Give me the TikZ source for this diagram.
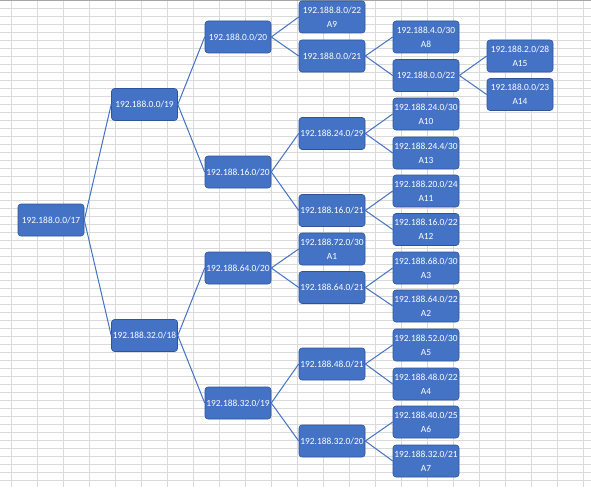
\documentclass[tikz,border=0pt]{standalone}
\usepackage{fontspec}
\setmainfont{Carlito}
\usepackage{tikz}
\usetikzlibrary{positioning, calc}
\usepackage{xcolor}
\definecolor{xblue}{HTML}{4472C4}
\definecolor{xedge}{HTML}{2F5597}
\definecolor{xgrid}{HTML}{DADADA}
\definecolor{xtop}{HTML}{A6A6A6}
\tikzset{
	net/.style={draw=xedge, line width=0.6pt, fill=xblue, rounded corners=3pt, text=white,
		minimum width=66pt, minimum height=32pt, inner sep=0pt, align=center,
		font=\fontsize{9.4}{14}\selectfont},
	link/.style={xblue, line width=1pt},
	cell/.style={xgrid, line width=1pt},
}

\begin{document}
\begin{tikzpicture}[x=1pt, y=-1pt]
			\useasboundingbox[fill=white] (0,0) rectangle (591,487);

			% spreadsheet cells
			\foreach \c in {0,...,22} \draw[cell] ({11.7+25.98*\c},0) -- ++(0,487);
			\foreach \r in {0,...,60} \draw[cell] (0,{8.7+8*\r}) -- ++(591,0);
			\draw[xtop, line width=1.5pt] (0,0.7) -- (591,0.7);

			\node[net] (root) at (51,220) {192.188.0.0/17};

			\node[net] (n0-19) at (144.5,104.5) {192.188.0.0/19};
			\node[net] (n32-18) at (144.5,335.5) {192.188.32.0/18};

			\node[net] (n0-20) at (238,37) {192.188.0.0/20};
			\node[net] (n16-20) at (238,172) {192.188.16.0/20};
			\node[net] (n64-20) at (238,268) {192.188.64.0/20};
			\node[net] (n32-19) at (238,403) {192.188.32.0/19};

			\node[net] (a9) at (332,17) {192.188.8.0/22\\A9};
			\node[net] (n0-21) at (332,56) {192.188.0.0/21};
			\node[net] (n24-29) at (332,133.5) {192.188.24.0/29};
			\node[net] (n16-21) at (332,210.5) {192.188.16.0/21};
			\node[net] (a1) at (332,249) {192.188.72.0/30\\A1};
			\node[net] (n64-21) at (332,287.5) {192.188.64.0/21};
			\node[net] (n48-21) at (332,364) {192.188.48.0/21};
			\node[net] (n32-20) at (332,441) {192.188.32.0/20};

			\node[net] (a8) at (426,37) {192.188.4.0/30\\A8};
			\node[net] (n0-22) at (426,75.5) {192.188.0.0/22};
			\node[net] (a10) at (426,114) {192.188.24.0/30\\A10};
			\node[net] (a13) at (426,153) {192.188.24.4/30\\A13};
			\node[net] (a11) at (426,191) {192.188.20.0/24\\A11};
			\node[net] (a12) at (426,229.5) {192.188.16.0/22\\A12};
			\node[net] (a3) at (426,268) {192.188.68.0/30\\A3};
			\node[net] (a2) at (426,306) {192.188.64.0/22\\A2};
			\node[net] (a5) at (426,345) {192.188.52.0/30\\A5};
			\node[net] (a4) at (426,384) {192.188.48.0/22\\A4};
			\node[net] (a6) at (426,422) {192.188.40.0/25\\A6};
			\node[net] (a7) at (426,461) {192.188.32.0/21\\A7};

			\node[net] (a15) at (520,56) {192.188.2.0/28\\A15};
			\node[net] (a14) at (520,94.5) {192.188.0.0/23\\A14};

			\draw[link] (root.east) -- (n0-19.west);
			\draw[link] (root.east) -- (n32-18.west);
			\draw[link] (n0-19.east) -- (n0-20.west);
			\draw[link] (n0-19.east) -- (n16-20.west);
			\draw[link] (n32-18.east) -- (n64-20.west);
			\draw[link] (n32-18.east) -- (n32-19.west);
			\draw[link] (n0-20.east) -- (a9.west);
			\draw[link] (n0-20.east) -- (n0-21.west);
			\draw[link] (n16-20.east) -- (n24-29.west);
			\draw[link] (n16-20.east) -- (n16-21.west);
			\draw[link] (n64-20.east) -- (a1.west);
			\draw[link] (n64-20.east) -- (n64-21.west);
			\draw[link] (n32-19.east) -- (n48-21.west);
			\draw[link] (n32-19.east) -- (n32-20.west);
			\draw[link] (n0-21.east) -- (a8.west);
			\draw[link] (n0-21.east) -- (n0-22.west);
			\draw[link] (n0-22.east) -- (a15.west);
			\draw[link] (n0-22.east) -- (a14.west);
			\draw[link] (n24-29.east) -- (a10.west);
			\draw[link] (n24-29.east) -- (a13.west);
			\draw[link] (n16-21.east) -- (a11.west);
			\draw[link] (n16-21.east) -- (a12.west);
			\draw[link] (n64-21.east) -- (a3.west);
			\draw[link] (n64-21.east) -- (a2.west);
			\draw[link] (n48-21.east) -- (a5.west);
			\draw[link] (n48-21.east) -- (a4.west);
			\draw[link] (n32-20.east) -- (a6.west);
			\draw[link] (n32-20.east) -- (a7.west);
		\end{tikzpicture}
\end{document}
